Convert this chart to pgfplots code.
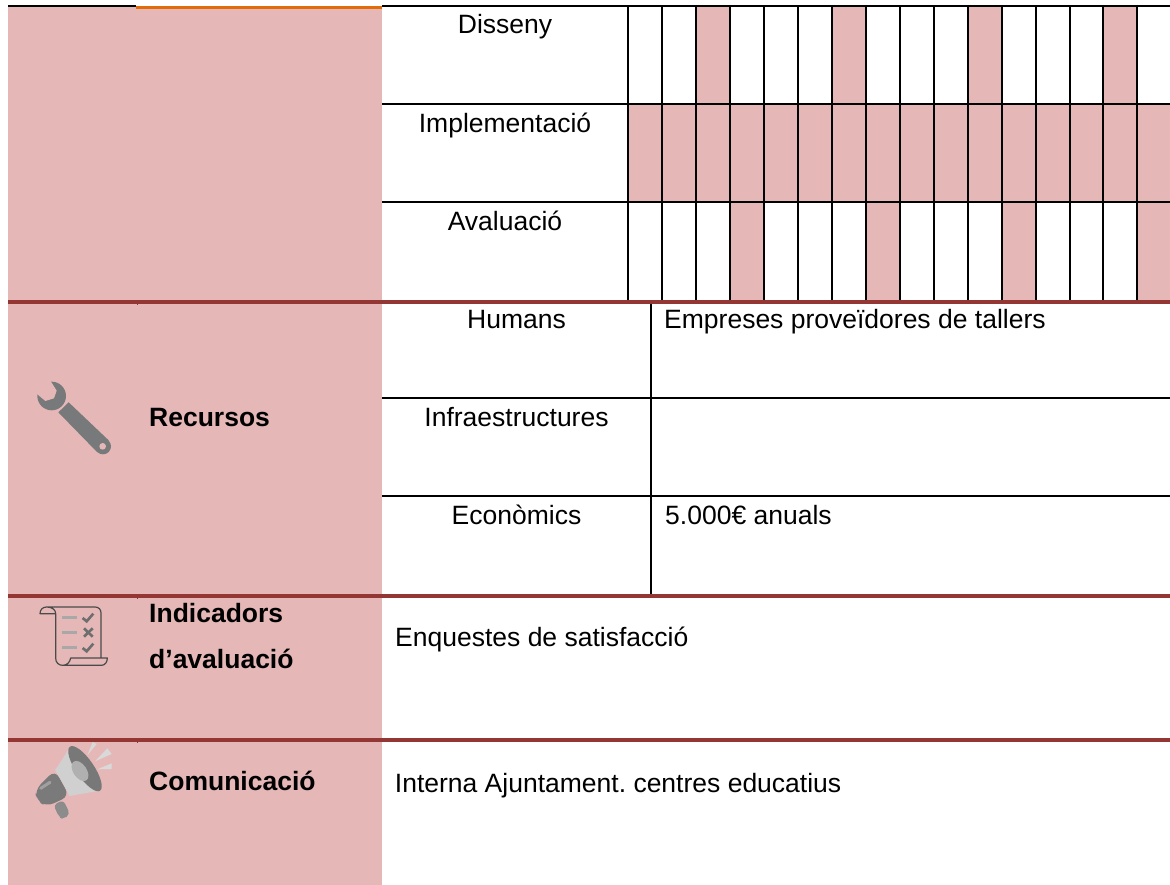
\documentclass[border=0pt]{standalone}
\usepackage{pgfplots}
\pgfplotsset{compat=1.18}
\usepackage{fontspec}
\setmainfont{Liberation Sans}
\definecolor{rosa}{HTML}{E5B8B7}
\definecolor{granat}{HTML}{943634}
\definecolor{taronja}{HTML}{E36C0A}
\definecolor{clau}{HTML}{77797A}
% filled cell from x1 to x2, y1 to y2
\newcommand\cell[4]{\addplot[fill=rosa,draw=none] coordinates {(#1,#3)(#2,#3)(#2,#4)(#1,#4)} --cycle;}
\newcommand\vl[1]{\addplot[black,line width=2pt] coordinates {(#1,5)(#1,300.5)};}
\newcommand\hl[4][black]{\addplot[#1,line width=#4] coordinates {(#2,#3)(1170,#3)};}
\newcommand\txt[4][base]{\node[anchor=#1,inner sep=0pt,font=\fontsize{26.5}{30}\selectfont\frenchspacing] at (axis cs:#2,#3) {#4};}
\begin{document}
\begin{tikzpicture}
\fill[white] (0pt,0pt) rectangle (1170pt,885pt);
\begin{axis}[
  scale only axis, width=1170pt, height=885pt,
  xmin=0, xmax=1170, ymin=0, ymax=885, y dir=reverse,
  hide axis, clip=true]
% left column
\cell{8}{382}{6}{885}
% Gantt: Disseny
\cell{696}{730}{6}{104}
\cell{832}{866}{6}{104}
\cell{968}{1001.5}{6}{104}
\cell{1103}{1137}{6}{104}
% Gantt: Implementacio
\cell{627.7}{1170}{104}{201.7}
% Gantt: Avaluacio
\cell{730}{764}{201.7}{301}
\cell{866}{900}{201.7}{301}
\cell{1001.5}{1036}{201.7}{301}
\cell{1137}{1170}{201.7}{301}
% grid
\vl{627.7}\vl{662}\vl{696}\vl{730}\vl{764}\vl{798}\vl{832}\vl{866}
\vl{900}\vl{934}\vl{968}\vl{1001.5}\vl{1036}\vl{1069.5}\vl{1103}\vl{1137}
\addplot[black,line width=2pt] coordinates {(651,302)(651,595)};
\addplot[black,line width=2pt] coordinates {(8,5.8)(136,5.8)};
\hl{382}{5.8}{2pt}
\hl{382}{104}{2pt}
\hl{382}{201.7}{2pt}
\hl{382}{397.7}{2pt}
\hl{382}{495.7}{2pt}
\addplot[taronja,line width=3pt] coordinates {(136,7.5)(382,7.5)};
\hl[granat]{8}{301.8}{3.6pt}
\hl[granat]{8}{595.8}{3.4pt}
\hl[granat]{8}{739.8}{3.4pt}
\addplot[granat,line width=1.5pt] coordinates {(137.3,303)(137.3,305.2)};
\addplot[granat,line width=1.5pt] coordinates {(137.3,597)(137.3,598.8)};
\addplot[granat,line width=1.5pt] coordinates {(137.3,741)(137.3,742.8)};
% texts
\txt{505}{33.3}{Disseny}
\txt{505}{132.6}{Implementació}
\txt{505}{230.7}{Avaluació}
\txt{516.5}{328.3}{Humans}
\txt{516.5}{426}{Infraestructures}
\txt{516.5}{524.3}{Econòmics}
\txt[base west]{664}{328.3}{Empreses proveïdores de tallers}
\txt[base west]{665}{524.3}{5.000€ anuals}
\txt[base west]{149}{426}{\bfseries Recursos}
\txt[base west]{149}{622.3}{\bfseries Indicadors}
\txt[base west]{149}{668.3}{\bfseries d’avaluació}
\txt[base west]{149}{790}{\bfseries Comunicació}
\txt[base west]{395}{646}{Enquestes de satisfacció}
\txt[base west]{394.7}{792}{Interna Ajuntament. centres educatius}
\end{axis}
% icons (zoom coordinates, 3 units per pixel, y downward)
% wrench
\begin{scope}[shift={(30pt,{885pt-375pt})},scale=1/3,yscale=-1]
  \fill[clau] (65pt,63pt) circle [radius=43pt];
  \fill[rosa] (15pt,52pt) -- (46pt,78pt) -- (72pt,70pt) -- (80pt,47pt) -- (58pt,12pt) -- (20pt,12pt) -- cycle;
  \fill[clau] (85pt,112pt) -- (116pt,82pt) -- (236pt,196pt) -- (202pt,232pt) -- cycle;
  \fill[clau] (219pt,214pt) circle [radius=24pt];
  \fill[rosa] (218pt,214pt) circle [radius=10pt];
\end{scope}
% scroll
\begin{scope}[shift={(30pt,{885pt-598pt})},scale=1/3,yscale=-1]
  \draw[color={rgb,255:red,74;green,74;blue,74},line width=1.2pt,line join=round]
    (77pt,47pt) -- (30pt,47pt) .. controls (30pt,35pt) and (38pt,27pt) .. (50pt,27pt)
    -- (195pt,27pt) .. controls (207pt,27pt) and (213pt,35pt) .. (213pt,45pt) -- (213pt,180pt)
    (50pt,27pt) .. controls (66pt,27pt) and (77pt,35pt) .. (77pt,47pt) -- (77pt,180pt)
    .. controls (77pt,194pt) and (86pt,202pt) .. (98pt,202pt) -- (215pt,202pt)
    .. controls (225pt,202pt) and (232pt,192pt) .. (232pt,180pt) -- (122pt,180pt)
    .. controls (120pt,192pt) and (112pt,202pt) .. (98pt,202pt);
  \draw[color={rgb,255:red,168;green,168;blue,168},line width=2.4pt]
    (97pt,58pt) -- (142pt,58pt) (97pt,103pt) -- (142pt,103pt) (97pt,149pt) -- (142pt,149pt);
  \draw[color={rgb,255:red,110;green,110;blue,110},line width=2.6pt]
    (158pt,60pt) -- (170pt,70pt) -- (190pt,47pt)
    (162pt,91pt) -- (188pt,116pt) (188pt,91pt) -- (162pt,116pt)
    (158pt,150pt) -- (170pt,160pt) -- (190pt,137pt);
\end{scope}
% megaphone
\begin{scope}[shift={(30pt,{885pt-740pt})},scale=1/3,yscale=-1]
  \fill[color={rgb,255:red,140;green,140;blue,140},rounded corners=4pt]
    (70pt,195pt) -- (100pt,180pt) -- (120pt,222pt) -- (100pt,238pt) -- (88pt,232pt) -- cycle;
  \fill[color={rgb,255:red,122;green,122;blue,122},rounded corners=8pt]
    (15pt,150pt) -- (75pt,90pt) -- (118pt,168pt) -- (50pt,200pt) -- (20pt,182pt) -- cycle;
  \draw[color={rgb,255:red,160;green,160;blue,160},line width=3pt,line cap=round] (32pt,145pt) -- (60pt,127pt);
  \fill[color={rgb,255:red,208;green,208;blue,208}]
    (120pt,20pt) .. controls (105pt,45pt) and (90pt,70pt) .. (75pt,90pt)
    .. controls (90pt,115pt) and (105pt,140pt) .. (118pt,168pt) -- (210pt,152pt) -- cycle;
  \fill[color={rgb,255:red,120;green,120;blue,120},shift={(165pt,86pt)},rotate=55.7] (0pt,0pt) ellipse [x radius=80pt,y radius=27pt];
  \fill[color={rgb,255:red,176;green,176;blue,176},shift={(150pt,93pt)},rotate=55.7] (0pt,0pt) ellipse [x radius=34pt,y radius=20pt];
  \fill[color={rgb,255:red,217;green,217;blue,217}] (188pt,6pt) -- (200pt,12pt) -- (172pt,46pt) -- cycle;
  \fill[color={rgb,255:red,217;green,217;blue,217}] (232pt,25pt) -- (245pt,42pt) -- (195pt,64pt) -- cycle;
  \fill[color={rgb,255:red,217;green,217;blue,217}] (245pt,70pt) -- (245pt,87pt) -- (202pt,88pt) -- cycle;
\end{scope}
\end{tikzpicture}
\end{document}
